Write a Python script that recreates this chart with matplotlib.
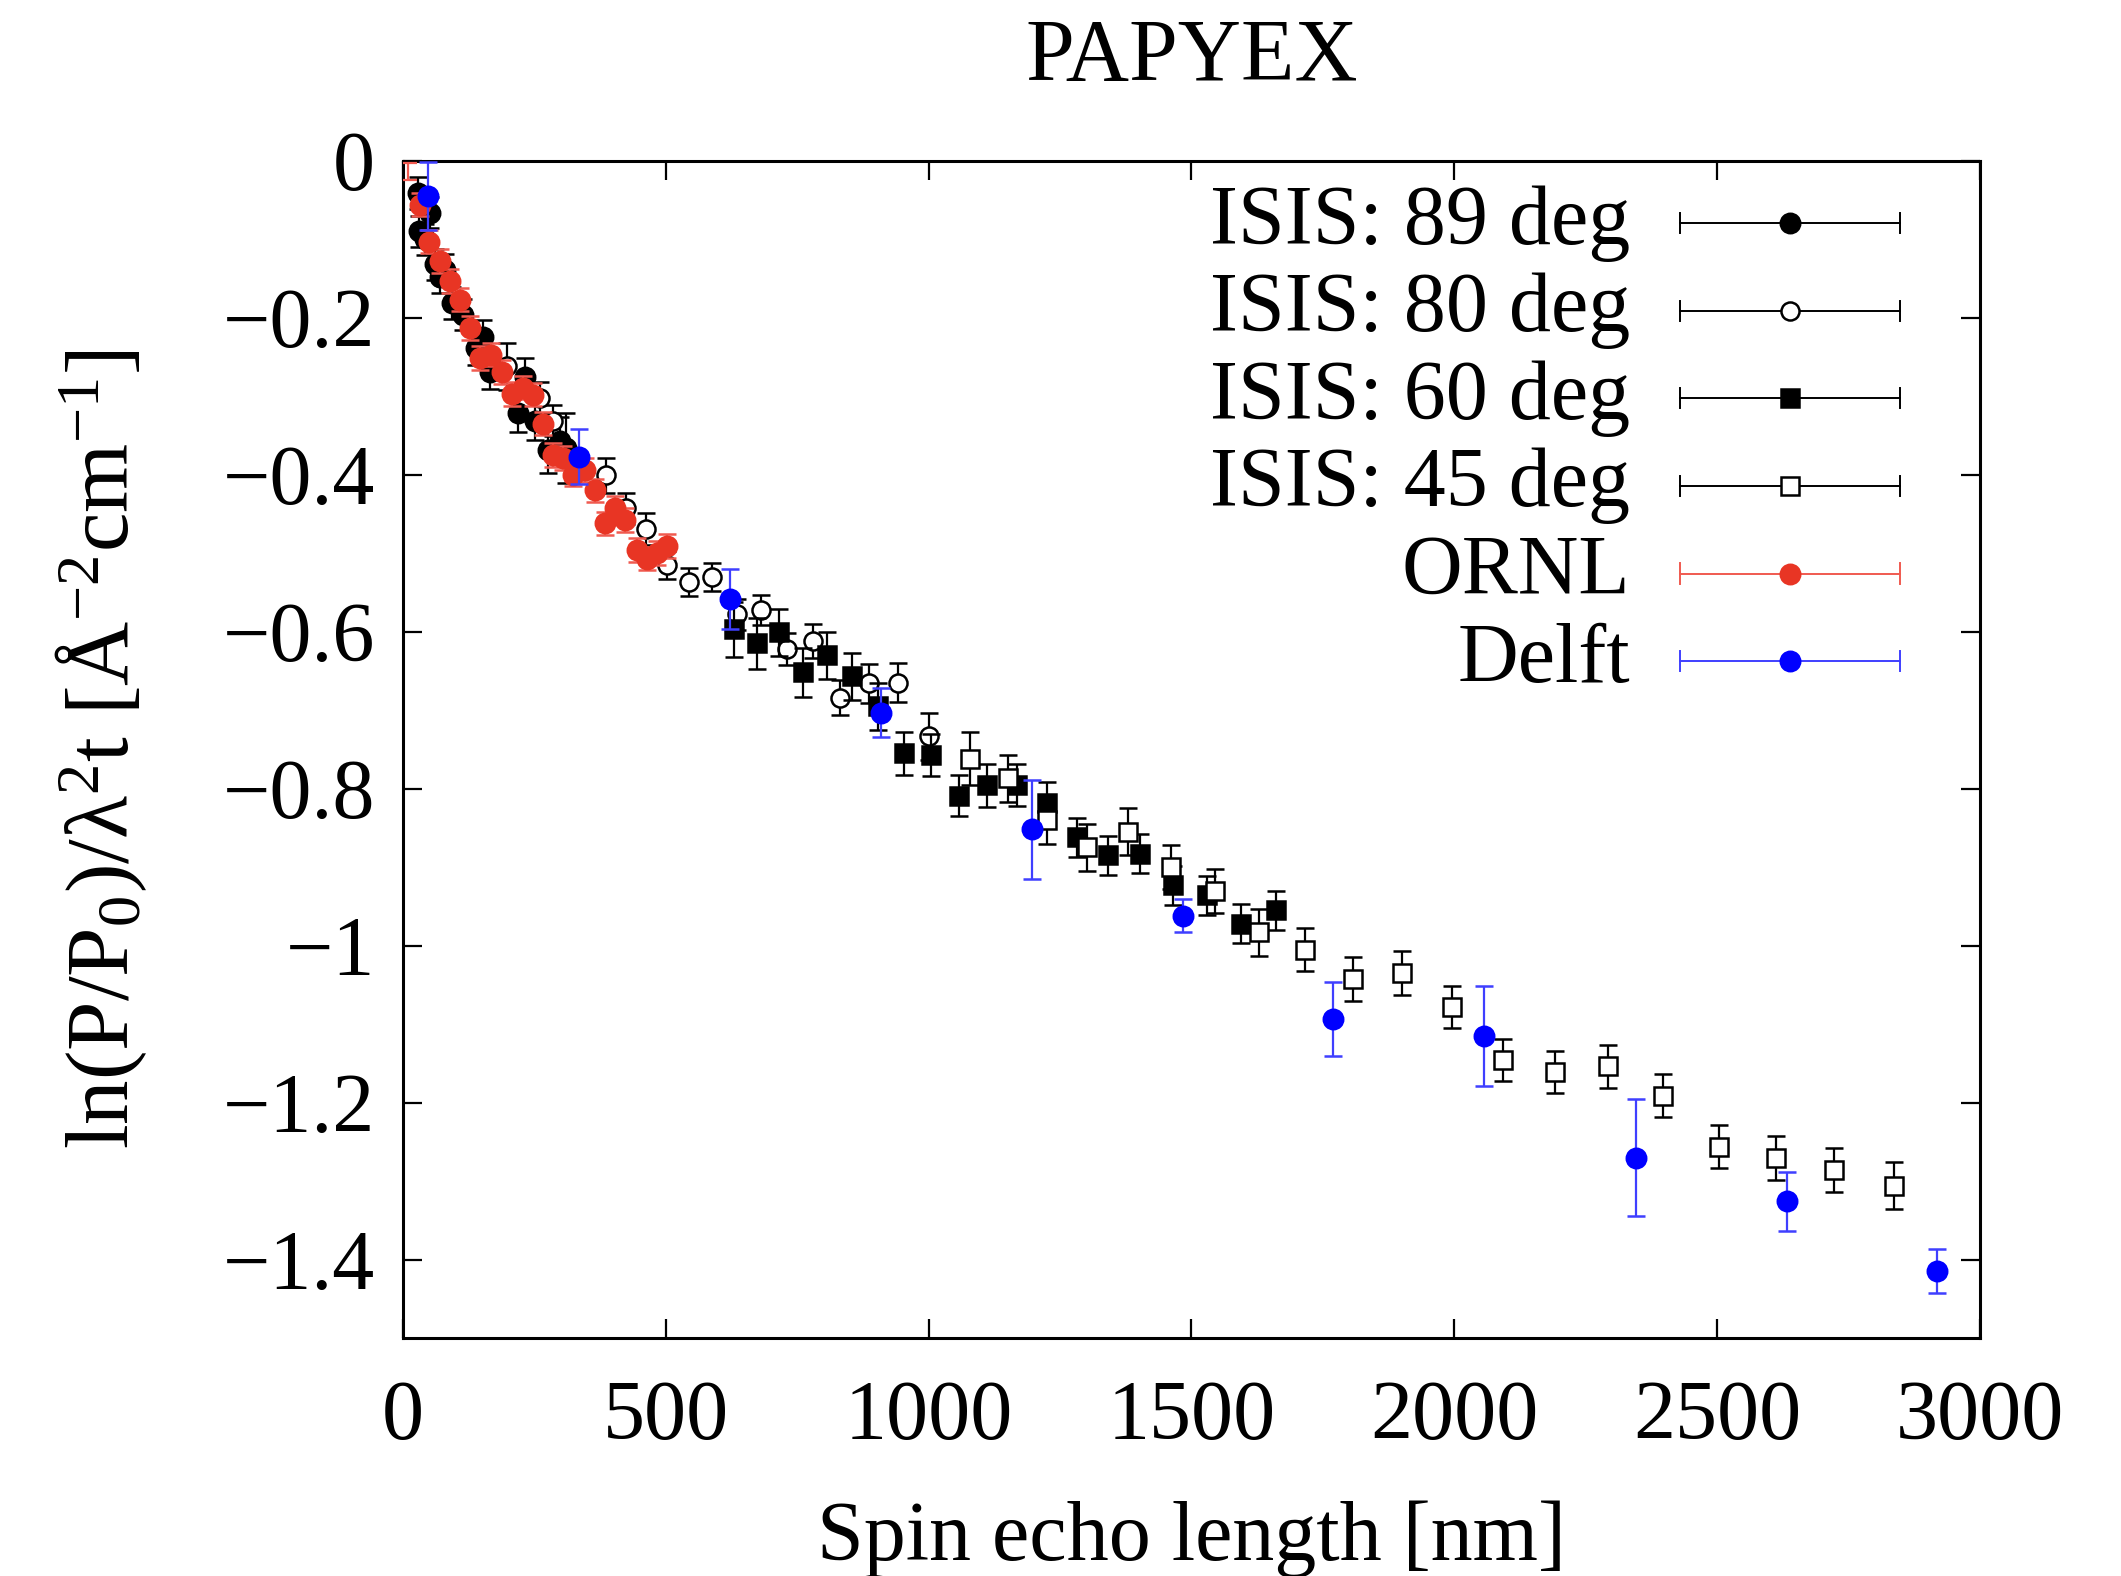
import matplotlib
matplotlib.use('Agg')
import matplotlib.pyplot as plt
from matplotlib.ticker import FuncFormatter

plt.rcParams['font.family'] = ['Liberation Serif', 'DejaVu Serif']
plt.rcParams['mathtext.fontset'] = 'custom'
plt.rcParams['mathtext.rm'] = 'Liberation Serif'
plt.rcParams['mathtext.it'] = 'Liberation Serif:italic'

# ISIS 89 deg (filled circles)
isis89_x = [29, 30, 42, 52, 61, 70, 80, 93, 114, 139, 152, 165, 219, 232, 251, 276, 299, 311]
isis89_y = [-0.041, -0.090, -0.100, -0.066, -0.132, -0.148, -0.139, -0.181, -0.196, -0.238,
            -0.225, -0.269, -0.321, -0.276, -0.331, -0.368, -0.357, -0.366]
isis89_err = [0.02, 0.02, 0.02, 0.02, 0.02, 0.02, 0.02, 0.02, 0.02, 0.022,
              0.022, 0.022, 0.025, 0.025, 0.025, 0.03, 0.03, 0.045]

# ISIS 80 deg (open circles)
isis80_x = [198, 261, 286, 386, 424, 462, 502, 544, 588, 635, 681, 730, 780, 831, 886, 942, 1000]
isis80_y = [-0.262, -0.302, -0.331, -0.401, -0.443, -0.469, -0.515, -0.537, -0.530, -0.578,
            -0.572, -0.622, -0.612, -0.684, -0.666, -0.665, -0.733]
isis80_err = [0.03, 0.02, 0.02, 0.022, 0.02, 0.02, 0.018, 0.018, 0.018, 0.02,
              0.019, 0.02, 0.022, 0.022, 0.025, 0.025, 0.03]

# ISIS 60 deg (filled squares)
isis60_x = [630, 673, 715, 761, 806, 854, 904, 953, 1004, 1058, 1111, 1168, 1225, 1282,
            1341, 1402, 1465, 1529, 1594, 1661]
isis60_y = [-0.597, -0.615, -0.601, -0.652, -0.630, -0.657, -0.695, -0.755, -0.757, -0.809,
            -0.796, -0.795, -0.818, -0.862, -0.885, -0.883, -0.923, -0.936, -0.972, -0.955]
isis60_err = [0.035, 0.033, 0.03, 0.031, 0.03, 0.03, 0.03, 0.027, 0.027, 0.026,
              0.027, 0.027, 0.027, 0.025, 0.025, 0.025, 0.025, 0.025, 0.025, 0.025]

# ISIS 45 deg (open squares)
isis45_x = [1079, 1151, 1225, 1301, 1379, 1461, 1545, 1628, 1716, 1807, 1900, 1995, 2092,
            2191, 2292, 2397, 2503, 2612, 2722, 2836]
isis45_y = [-0.762, -0.787, -0.840, -0.875, -0.855, -0.900, -0.931, -0.983, -1.005, -1.043,
            -1.035, -1.078, -1.146, -1.161, -1.154, -1.191, -1.256, -1.271, -1.286, -1.306]
isis45_err = [0.034, 0.03, 0.03, 0.03, 0.03, 0.028, 0.028, 0.03, 0.028, 0.028,
              0.028, 0.027, 0.027, 0.027, 0.027, 0.027, 0.028, 0.028, 0.028, 0.03]

# ORNL (red)
ornl_x = [32, 50, 70, 89, 108, 127, 146, 167, 188, 207, 228, 247, 266, 286, 305, 324,
          346, 365, 384, 403, 422, 445, 464, 483, 502]
ornl_y = [-0.056, -0.103, -0.128, -0.153, -0.177, -0.213, -0.251, -0.247, -0.269, -0.297,
          -0.289, -0.298, -0.335, -0.375, -0.379, -0.400, -0.394, -0.420, -0.462, -0.442,
          -0.458, -0.496, -0.507, -0.500, -0.491]
ornl_err = [0.015, 0.015, 0.015, 0.015, 0.015, 0.015, 0.015, 0.015, 0.015, 0.015,
            0.015, 0.015, 0.015, 0.015, 0.015, 0.015, 0.015, 0.015, 0.015, 0.015,
            0.015, 0.015, 0.015, 0.015, 0.015]
# ORNL bar at the corner, only the bar shows
ornl_edge_x = [10]
ornl_edge_y = [-0.014]
ornl_edge_err = [0.011]

# Delft (blue)
delft_x = [48, 335, 622, 909, 1196, 1484, 1769, 2056, 2345, 2633, 2918]
delft_y = [-0.045, -0.377, -0.558, -0.703, -0.852, -0.962, -1.094, -1.115, -1.270, -1.326, -1.414]
delft_err = [0.043, 0.035, 0.038, 0.031, 0.063, 0.021, 0.047, 0.064, 0.074, 0.038, 0.028]

xticks = [0, 500, 1000, 1500, 2000, 2500, 3000]
yticks = [0, -0.2, -0.4, -0.6, -0.8, -1.0, -1.2, -1.4]

series = [
    ('ISIS: 89 deg', isis89_x, isis89_y, isis89_err, 'o', 'black', 'black', 'black', 14),
    ('ISIS: 80 deg', isis80_x, isis80_y, isis80_err, 'o', 'white', 'black', 'black', 13),
    ('ISIS: 60 deg', isis60_x, isis60_y, isis60_err, 's', 'black', 'black', 'black', 13),
    ('ISIS: 45 deg', isis45_x, isis45_y, isis45_err, 's', 'white', 'black', 'black', 13),
    ('ORNL', ornl_x, ornl_y, ornl_err, 'o', '#e83524', '#e83524', '#f05a50', 14),
    ('Delft', delft_x, delft_y, delft_err, 'o', '#0000ff', '#0000ff', '#3f3fff', 14),
]


def fmt_tick(v, pos):
    return '{:g}'.format(round(v, 3)).replace('-', '\u2212')


def main():
    fig = plt.figure(figsize=(21.21, 15.76), dpi=100)
    ax = fig.add_axes([0.190, 0.151, 0.7435, 0.747])

    for i, (lab, x, y, e, m, fc, ec, erc, ms) in enumerate(series):
        ax.errorbar(x, y, yerr=e, fmt=m, ms=ms, mfc=fc, mec=ec, mew=1.8,
                    ecolor=erc, elinewidth=1.6, capsize=6.5, capthick=1.6, zorder=3 + i)
    ax.errorbar(ornl_edge_x, ornl_edge_y, yerr=ornl_edge_err, fmt='none', ecolor='#f05a50',
                elinewidth=1.6, capsize=6.5, capthick=1.6, zorder=7)

    # legend, gnuplot style
    for i, (lab, x, y, e, m, fc, ec, erc, ms) in enumerate(series):
        yy = 0.947 - i * 0.0744
        ax.plot([0.810, 0.949], [yy, yy], color=erc, lw=1.4, transform=ax.transAxes, zorder=10)
        for xx in [0.810, 0.949]:
            ax.plot([xx, xx], [yy - 0.0085, yy + 0.0085], color=erc, lw=1.4,
                    transform=ax.transAxes, zorder=10)
        ax.plot([0.8795], [yy], marker=m, ms=ms, mfc=fc, mec=ec, mew=1.8,
                transform=ax.transAxes, zorder=11)
        ax.text(0.778, yy, lab, ha='right', va='center', fontsize=60.5, transform=ax.transAxes)

    ax.set_xlim(0, 3000)
    ax.set_ylim(-1.5, 0)
    ax.set_xticks(xticks)
    ax.set_yticks(yticks)
    ax.xaxis.set_major_formatter(FuncFormatter(fmt_tick))
    ax.yaxis.set_major_formatter(FuncFormatter(fmt_tick))
    ax.tick_params(direction='in', length=14, width=1.6, top=True, right=True, labelsize=60.5)
    ax.tick_params(axis='x', pad=30)
    ax.tick_params(axis='y', pad=20)
    for s in ax.spines.values():
        s.set_linewidth(2.2)

    ax.set_title('PAPYEX', fontsize=63, pad=58)
    ax.set_xlabel('Spin echo length [nm]', fontsize=60.5)
    ax.set_ylabel(r'ln(P/P$_\mathrm{0}$)/λ$^\mathrm{2}$t [Å$^{\mathrm{-2}}$cm$^{\mathrm{-1}}$]', fontsize=64)
    ax.xaxis.set_label_coords(0.5, -0.138)
    ax.yaxis.set_label_coords(-0.161, 0.5)

    fig.savefig('out.png', dpi=100)


if __name__ == '__main__':
    main()
